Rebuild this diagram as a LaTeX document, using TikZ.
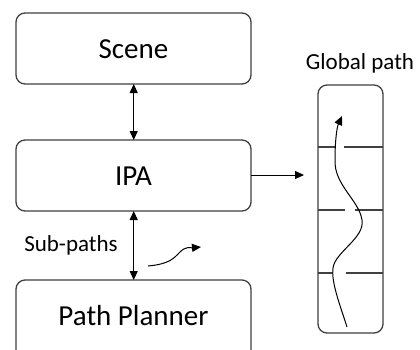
\documentclass[tikz,border=0pt]{standalone}
\usepackage{fontspec}
\setmainfont{Carlito}
\usetikzlibrary{arrows.meta}
\definecolor{edge}{HTML}{404040}
\tikzset{
  block/.style={draw=edge, line width=1.3pt, rounded corners=9pt},
  blocktext/.style={font=\fontsize{29}{32}\selectfont, inner sep=0pt},
  label/.style={font=\fontsize{23}{26}\selectfont, inner sep=0pt},
  flow/.style={line width=1pt, -{Triangle[length=9pt,width=8pt]}},
  both/.style={line width=1pt, {Triangle[length=9pt,width=8pt]}-{Triangle[length=9pt,width=8pt]}},
  thin/.style={draw=edge, line width=1.2pt},
}
\begin{document}
\begin{tikzpicture}[x=1pt, y=-1pt]
\useasboundingbox (0,0) rectangle (420,349);
\fill[white] (0,0) rectangle (420,349);

% module blocks
\draw[block] (16,13) rectangle (251,84);
\node[blocktext] (scene) at (133.5,49) {Scene};
\coordinate (sceneB) at (133.7,84);
\draw[block] (16,140) rectangle (251,211);
\node[blocktext] (ipa) at (133.5,176) {IPA};
\coordinate (ipaT) at (133.7,140);
\coordinate (ipaB) at (133.7,211);
\coordinate (ipaR) at (251,175);
\draw[block] (16,280) rectangle (251,370);
\node[blocktext] (planner) at (133.5,316) {Path Planner};
\coordinate (plannerT) at (133.7,280);

% links between blocks
\draw[both] (sceneB) -- (ipaT);
\draw[both] (ipaB) -- (plannerT);
\coordinate (gpIn) at (304,175);
\draw[flow] (ipaR) -- (gpIn);

\node[label] (sub) at (71,245) {Sub-paths};
\coordinate (sq0) at (148,266);
\coordinate (sq1) at (201,247);
\draw[flow, line width=1pt] (sq0) .. controls (170,264) and (174,258) .. (180,252)
  .. controls (186,246) and (190,248) .. (sq1);

% global path column
\node[label] (gp) at (360,63) {Global path};
\draw[block] (318,85) rectangle (383,333);
\draw[thin] (318,147) -- (335,147) (344,147) -- (383,147);
\draw[thin] (318,210) -- (345,210) (355,210) -- (383,210);
\draw[thin] (318,273) -- (332,273) (346,273) -- (383,273);
\coordinate (gs) at (347,327);
\coordinate (ge) at (342,116);
\draw[flow, line width=1pt] (gs) .. controls (340,305) and (331,282) .. (333,268)
  .. controls (335,252) and (365,238) .. (362,220)
  .. controls (359,200) and (334,185) .. (335,160)
  .. controls (335,140) and (337,127) .. (ge);
\end{tikzpicture}
\end{document}
